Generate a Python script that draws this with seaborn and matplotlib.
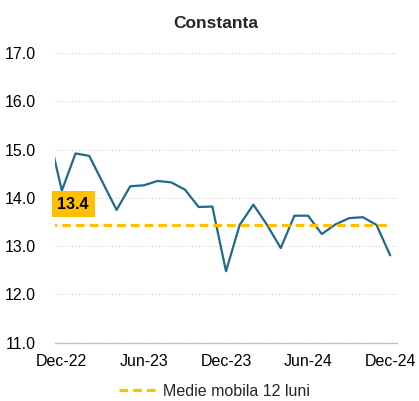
import matplotlib
matplotlib.use("Agg")
import matplotlib.pyplot as plt
import seaborn as sns
import pandas as pd

# Monthly series (Nov-22 sits just outside the visible window)
months = ["Nov-22", "Dec-22", "Jan-23", "Feb-23", "Mar-23", "Apr-23", "May-23",
          "Jun-23", "Jul-23", "Aug-23", "Sep-23", "Oct-23", "Nov-23", "Dec-23",
          "Jan-24", "Feb-24", "Mar-24", "Apr-24", "May-24", "Jun-24", "Jul-24",
          "Aug-24", "Sep-24", "Oct-24", "Nov-24", "Dec-24"]
values = [15.37, 14.15, 14.92, 14.87, 14.31, 13.75, 14.24,
          14.26, 14.35, 14.32, 14.17, 13.81, 13.82, 12.48,
          13.44, 13.86, 13.44, 12.96, 13.63, 13.63, 13.25,
          13.45, 13.58, 13.60, 13.44, 12.81]
moving_avg = 13.43
tick_labels = ["Dec-22", "Jun-23", "Dec-23", "Jun-24", "Dec-24"]
y_ticks = [11.0, 12.0, 13.0, 14.0, 15.0, 16.0, 17.0]

sns.set_style("white")
plt.rcParams["font.family"] = ["Liberation Sans", "DejaVu Sans"]

# position 0 = Dec-22
pos = list(range(-1, len(months) - 1))
df = pd.DataFrame({"pos": pos, "value": values, "month": months,
                   "ma": [moving_avg] * len(months)})

fig = plt.figure(figsize=(4.19, 4.01), dpi=100)
ax = fig.add_axes([0.1313, 0.1454, 0.9475 - 0.1313, 0.8678 - 0.1454])

sns.lineplot(data=df, x="pos", y="value", color="#1F6A8C", linewidth=1.6,
             ax=ax, legend=False)
sns.lineplot(data=df, x="pos", y="ma", color="#FFC000", linewidth=2.3,
             ax=ax, label="Medie mobila 12 luni")
ax.lines[-1].set_dashes((2.7, 1.6))

ax.set_xlim(-0.5, 24.5)
ax.set_ylim(11, 17)
ax.set_yticks(y_ticks)
ax.set_yticklabels([f"{v:.1f}" for v in y_ticks], fontsize=11.5)
label_pos = [months.index(m) - 1 for m in tick_labels]
ax.set_xticks(label_pos)
ax.set_xticklabels(tick_labels, fontsize=11.5)
ax.set_xticks([p - 0.5 for p in label_pos], minor=True)
ax.tick_params(axis="x", which="major", length=0, pad=8, colors="black")
ax.tick_params(axis="x", which="minor", length=4, width=0.8, color="#BFBFBF",
               direction="out")
ax.tick_params(axis="y", length=0, pad=14, colors="black")
ax.set_xlabel("")
ax.set_ylabel("")

ax.grid(axis="y", color="#D0D0D0", linestyle=(0, (1, 2)), linewidth=0.8)
ax.grid(axis="x", visible=False)
for side in ["left", "right", "top"]:
    ax.spines[side].set_visible(False)
ax.spines["bottom"].set_color("#BFBFBF")
ax.spines["bottom"].set_linewidth(0.9)

ax.set_title("Constanta", fontsize=12.5, fontweight="bold", pad=18, x=0.47)

ax.text(0.83, 13.87, f"{moving_avg:.1f}", fontsize=11.5, fontweight="bold",
        ha="center", va="center", color="black",
        bbox=dict(boxstyle="square,pad=0.35", facecolor="#FFC000",
                  edgecolor="none"))

handles, labels = ax.get_legend_handles_labels()
ax.get_legend().remove()
fig.legend(handles, labels, loc="center", bbox_to_anchor=(0.511, 0.024),
           frameon=False, fontsize=11.5, handlelength=2.4, handletextpad=0.35)

fig.savefig("out.png", dpi=100)
